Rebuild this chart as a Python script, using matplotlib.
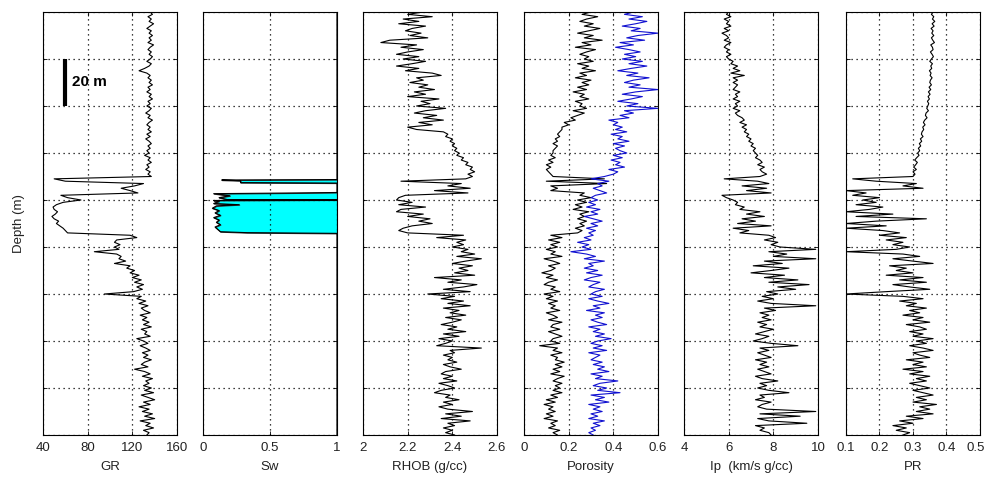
import numpy as np
import matplotlib
matplotlib.use('Agg')
from matplotlib import pyplot as plt
from matplotlib import transforms

plt.rcParams['font.family'] = ['Liberation Sans', 'DejaVu Sans']

# depth samples every metre, 0-180 m
depth = np.arange(0, 181, 1)

gr = [136,138,134,137,135,139,136,133,137,135,
      138,135,137,134,139,136,134,137,135,138,
      136,133,137,135,131,126,133,136,134,137,
      135,138,134,136,133,137,135,138,134,136,
      133,137,135,132,136,134,138,135,133,136,
      134,137,133,136,132,135,137,134,136,133,
      135,131,136,134,137,133,135,132,136,134,
      137,50,60,130,122,110,118,125,56,62,
      74,58,52,49,50,53,51,48,50,54,
      52,55,58,60,62,118,124,106,104,109,
      104,108,86,106,110,108,114,104,118,115,
      122,118,126,120,128,122,130,124,129,121,
      95,128,124,132,126,134,128,131,136,127,
      133,129,135,130,137,128,133,131,136,124,
      130,134,127,132,136,129,134,130,137,131,
      128,134,122,131,136,129,138,132,135,130,
      137,131,139,128,134,140,130,136,126,135,
      129,138,131,140,127,136,132,139,130,135,133]

# water saturation, sampled only where it departs from 1
sw_depth = [0, 71.3, 71.5, 71.8, 72.6, 72.8, 76.8, 77.0, 77.3, 78.2, 79.0, 79.8,
            80.0, 80.2, 80.5, 81.5, 82.0, 82.5, 83.5, 84.5, 85.5, 86.5, 87.5, 88.5,
            89.5, 90.5, 91.5, 92.5, 93.5, 93.9, 94.2, 180]
sw = [1, 1, 0.14, 0.28, 0.28, 1, 1, 0.70, 0.08, 0.2, 0.12, 0.18,
      1, 0.08, 0.12, 0.08, 0.27, 0.1, 0.07, 0.12, 0.09, 0.13, 0.08, 0.12,
      0.1, 0.13, 0.09, 0.11, 0.13, 0.33, 1, 1]

rhob = [2.27,2.20,2.31,2.18,2.25,2.16,2.28,2.22,2.19,2.26,
        2.21,2.29,2.12,2.08,2.24,2.17,2.27,2.20,2.15,2.25,
        2.18,2.28,2.22,2.15,2.25,2.19,2.31,2.35,2.24,2.27,
        2.21,2.29,2.25,2.32,2.23,2.28,2.20,2.34,2.26,2.30,
        2.24,2.37,2.28,2.23,2.33,2.27,2.36,2.25,2.31,2.20,
        2.24,2.36,2.38,2.37,2.40,2.39,2.41,2.40,2.42,2.41,
        2.43,2.42,2.45,2.44,2.47,2.46,2.49,2.48,2.50,2.47,
        2.49,2.46,2.17,2.44,2.38,2.48,2.32,2.47,2.19,2.16,
        2.15,2.22,2.16,2.28,2.17,2.15,2.27,2.20,2.30,2.25,
        2.31,2.22,2.18,2.16,2.20,2.45,2.33,2.46,2.42,2.45,
        2.40,2.47,2.44,2.50,2.42,2.53,2.46,2.40,2.49,2.43,
        2.47,2.41,2.50,2.32,2.44,2.38,2.51,2.45,2.36,2.48,
        2.29,2.41,2.35,2.45,2.38,2.48,2.36,2.43,2.39,2.46,
        2.37,2.44,2.40,2.35,2.42,2.38,2.46,2.36,2.43,2.34,
        2.40,2.37,2.33,2.53,2.39,2.41,2.36,2.40,2.38,2.42,
        2.36,2.39,2.44,2.37,2.35,2.40,2.36,2.42,2.34,2.38,
        2.41,2.35,2.32,2.39,2.37,2.43,2.36,2.40,2.34,2.38,
        2.49,2.37,2.44,2.35,2.48,2.38,2.41,2.36,2.40,2.37,2.41]

phi = [0.30,0.26,0.33,0.28,0.25,0.31,0.27,0.34,0.29,0.24,
       0.31,0.27,0.35,0.26,0.30,0.23,0.32,0.28,0.25,0.29,
       0.27,0.31,0.24,0.29,0.26,0.32,0.25,0.28,0.23,0.30,
       0.26,0.29,0.24,0.28,0.22,0.27,0.25,0.29,0.23,0.26,
       0.25,0.28,0.22,0.27,0.24,0.21,0.23,0.18,0.20,0.17,
       0.17,0.16,0.15,0.16,0.14,0.15,0.13,0.15,0.14,0.13,
       0.13,0.12,0.14,0.11,0.13,0.10,0.12,0.10,0.11,0.12,
       0.13,0.36,0.10,0.37,0.12,0.15,0.12,0.27,0.25,0.30,
       0.24,0.28,0.23,0.26,0.22,0.29,0.25,0.27,0.24,0.28,
       0.25,0.27,0.23,0.26,0.24,0.12,0.17,0.11,0.16,0.12,
       0.15,0.10,0.14,0.12,0.17,0.09,0.13,0.16,0.11,0.14,
       0.12,0.08,0.13,0.10,0.15,0.11,0.09,0.14,0.12,0.16,
       0.09,0.13,0.10,0.15,0.11,0.14,0.12,0.16,0.10,0.13,
       0.15,0.11,0.17,0.13,0.12,0.16,0.11,0.14,0.17,0.13,
       0.12,0.16,0.07,0.15,0.13,0.17,0.12,0.15,0.14,0.18,
       0.14,0.17,0.13,0.16,0.12,0.18,0.15,0.13,0.17,0.14,
       0.16,0.13,0.17,0.12,0.15,0.10,0.14,0.09,0.13,0.11,
       0.14,0.10,0.13,0.09,0.15,0.12,0.14,0.11,0.16,0.13,0.15]

phi_blue = [0.49,0.45,0.53,0.47,0.55,0.50,0.44,0.52,0.48,0.60,
            0.51,0.46,0.54,0.43,0.49,0.41,0.47,0.52,0.45,0.50,
            0.44,0.53,0.47,0.55,0.48,0.42,0.51,0.46,0.56,0.49,
            0.45,0.52,0.47,0.60,0.50,0.44,0.53,0.48,0.42,0.51,
            0.46,0.60,0.45,0.49,0.43,0.47,0.38,0.42,0.40,0.44,
            0.41,0.46,0.39,0.44,0.42,0.47,0.40,0.45,0.41,0.43,
            0.46,0.40,0.44,0.39,0.43,0.41,0.45,0.38,0.42,0.40,
            0.36,0.30,0.38,0.33,0.35,0.31,0.34,0.37,0.32,0.30,
            0.33,0.29,0.32,0.28,0.34,0.30,0.33,0.27,0.31,0.35,
            0.30,0.33,0.28,0.32,0.29,0.31,0.27,0.30,0.24,0.29,
            0.26,0.30,0.21,0.28,0.32,0.27,0.36,0.29,0.31,0.27,
            0.33,0.28,0.35,0.30,0.27,0.34,0.31,0.29,0.36,0.32,
            0.30,0.35,0.29,0.33,0.38,0.31,0.34,0.28,0.36,0.32,
            0.35,0.30,0.33,0.37,0.29,0.34,0.31,0.36,0.32,0.39,
            0.33,0.30,0.35,0.31,0.37,0.29,0.34,0.32,0.30,0.35,
            0.31,0.36,0.33,0.38,0.30,0.35,0.32,0.42,0.34,0.31,
            0.37,0.33,0.43,0.30,0.36,0.32,0.38,0.29,0.34,0.31,
            0.35,0.30,0.33,0.29,0.36,0.31,0.34,0.30,0.32,0.29,0.31]

ip = [6.0,5.9,6.1,5.8,6.0,5.9,6.1,5.8,6.0,5.7,
      5.9,6.0,5.8,6.1,5.9,5.8,6.0,5.9,6.1,5.9,
      6.0,6.2,6.1,6.4,6.2,6.5,6.1,6.7,6.2,6.4,
      6.2,6.4,6.3,6.2,6.5,6.3,6.4,6.2,6.5,6.3,
      6.4,6.2,6.5,6.3,6.4,6.6,6.7,6.5,6.8,6.6,
      6.8,6.7,6.9,6.8,7.0,6.9,7.1,7.0,7.2,7.1,
      7.2,7.3,7.2,7.4,7.5,7.3,7.6,7.4,7.5,7.7,
      7.4,5.8,7.3,7.8,6.6,7.7,6.8,7.9,5.7,5.9,
      6.2,6.4,6.3,6.7,6.5,7.4,6.8,7.6,6.6,7.2,
      6.4,7.9,6.2,6.9,6.5,7.8,8.1,7.6,8.2,7.9,
      8.3,9.9,7.8,8.6,8.0,9.9,7.6,8.4,7.1,8.7,
      7.9,7.0,8.5,7.6,9.1,7.8,9.6,8.2,9.0,7.7,
      8.2,7.5,8.0,7.3,7.9,9.9,7.6,8.1,7.4,7.8,
      7.5,7.9,7.3,7.7,7.4,8.0,7.6,7.2,7.8,7.5,
      7.1,7.9,9.1,7.4,7.8,7.3,7.6,7.9,7.2,7.7,
      7.4,7.8,7.3,7.6,7.9,7.2,7.5,8.2,7.4,7.7,
      7.3,7.8,8.7,7.4,7.6,7.2,7.9,7.5,7.3,7.7,
      9.9,7.4,9.2,7.3,7.8,9.5,7.2,7.6,7.4,7.8,7.9]

pr = [0.360,0.355,0.362,0.358,0.365,0.357,0.363,0.354,0.360,0.356,
      0.362,0.355,0.359,0.364,0.353,0.358,0.360,0.352,0.357,0.361,
      0.355,0.350,0.358,0.353,0.356,0.349,0.354,0.351,0.357,0.352,
      0.350,0.355,0.348,0.353,0.346,0.351,0.345,0.349,0.343,0.347,
      0.344,0.341,0.346,0.339,0.337,0.342,0.335,0.331,0.336,0.329,
      0.332,0.327,0.325,0.330,0.322,0.326,0.319,0.323,0.316,0.320,
      0.314,0.318,0.311,0.305,0.313,0.308,0.302,0.310,0.300,0.306,
      0.30,0.12,0.19,0.31,0.27,0.33,0.10,0.16,0.12,0.20,
      0.15,0.19,0.13,0.21,0.17,0.10,0.24,0.13,0.34,0.19,
      0.10,0.22,0.10,0.21,0.26,0.20,0.28,0.22,0.27,0.24,
      0.29,0.25,0.10,0.27,0.32,0.24,0.30,0.36,0.23,0.28,
      0.25,0.30,0.22,0.33,0.26,0.34,0.24,0.29,0.35,0.22,
      0.10,0.27,0.33,0.26,0.31,0.28,0.34,0.29,0.32,0.27,
      0.33,0.30,0.35,0.28,0.32,0.34,0.29,0.33,0.30,0.36,
      0.31,0.34,0.29,0.33,0.36,0.30,0.32,0.35,0.28,0.33,
      0.30,0.34,0.27,0.33,0.29,0.35,0.31,0.34,0.29,0.32,
      0.35,0.30,0.33,0.36,0.31,0.34,0.30,0.37,0.32,0.35,
      0.31,0.36,0.28,0.33,0.26,0.30,0.24,0.28,0.25,0.29,0.27]

labels = ['GR', 'Sw', 'RHOB (g/cc)', 'Porosity', 'Ip  (km/s g/cc)', 'PR']
xlims = [(40, 160), (0, 1), (2, 2.6), (0, 0.6), (4, 10), (0.1, 0.5)]
xticks = [[40, 80, 120, 160], [0, 0.5, 1], [2, 2.2, 2.4, 2.6],
          [0, 0.2, 0.4, 0.6], [4, 6, 8, 10], [0.1, 0.2, 0.3, 0.4, 0.5]]
xticklabels = [['40', '80', '120', '160'], ['0', '0.5', '1'],
               ['2', '2.2', '2.4', '2.6'], ['0', '0.2', '0.4', '0.6'],
               ['4', '6', '8', '10'], ['0.1', '0.2', '0.3', '0.4', '0.5']]

# scale bar in the GR track
bar_x = 60
bar_top = 20
bar_len = 20

fig = plt.figure(figsize=(9.87, 4.8), dpi=100)
lefts = [43, 203, 363, 524, 684, 846]
axes = []
for l in lefts:
    ax = fig.add_axes([l / 987, 45 / 480, 134 / 987, 423 / 480])
    axes.append(ax)

axes[0].plot(gr, depth, color='black', lw=0.8)
axes[1].fill_betweenx(sw_depth, sw, 1, facecolor='cyan', edgecolor='#333333', lw=0.8)
axes[1].plot(sw, sw_depth, color='black', lw=0.8)
axes[2].plot(rhob, depth, color='black', lw=0.8)
axes[3].plot(phi, depth, color='black', lw=0.8)
axes[3].plot(phi_blue, depth, color='#1010d0', lw=0.8)
axes[4].plot(ip, depth, color='black', lw=0.8)
axes[5].plot(pr, depth, color='black', lw=0.8)

for i, ax in enumerate(axes):
    ax.set_xlim(*xlims[i])
    ax.set_ylim(180, 0)
    ax.set_yticks(np.arange(0, 181, 20))
    ax.set_yticklabels([])
    ax.set_xticks(xticks[i])
    ax.set_xticklabels(xticklabels[i], fontsize=9.5, color='#222222')
    ax.set_xlabel(labels[i], fontsize=9.5, color='#222222', labelpad=5)
    ax.tick_params(direction='in', top=True, right=True, length=3, width=0.6, pad=5)
    ax.grid(True, linestyle=(0, (1, 3)), color='black', lw=0.9)
    for s in ax.spines.values():
        s.set_linewidth(0.8)

# keep the last PR tick label inside the figure
last = axes[5].get_xticklabels()[-1]
last.set_transform(last.get_transform() +
                   transforms.ScaledTranslation(-4 / 100, 0, fig.dpi_scale_trans))

axes[0].set_ylabel('Depth (m)', fontsize=9.5, color='#222222', labelpad=8)
axes[0].plot([bar_x, bar_x], [bar_top, bar_top + bar_len], color='black', lw=3,
             solid_capstyle='butt')
axes[0].text(bar_x + 6, bar_top + bar_len / 2, '20 m', fontsize=11, fontweight='bold',
             va='center', ha='left')

fig.savefig('out.png', dpi=100)
